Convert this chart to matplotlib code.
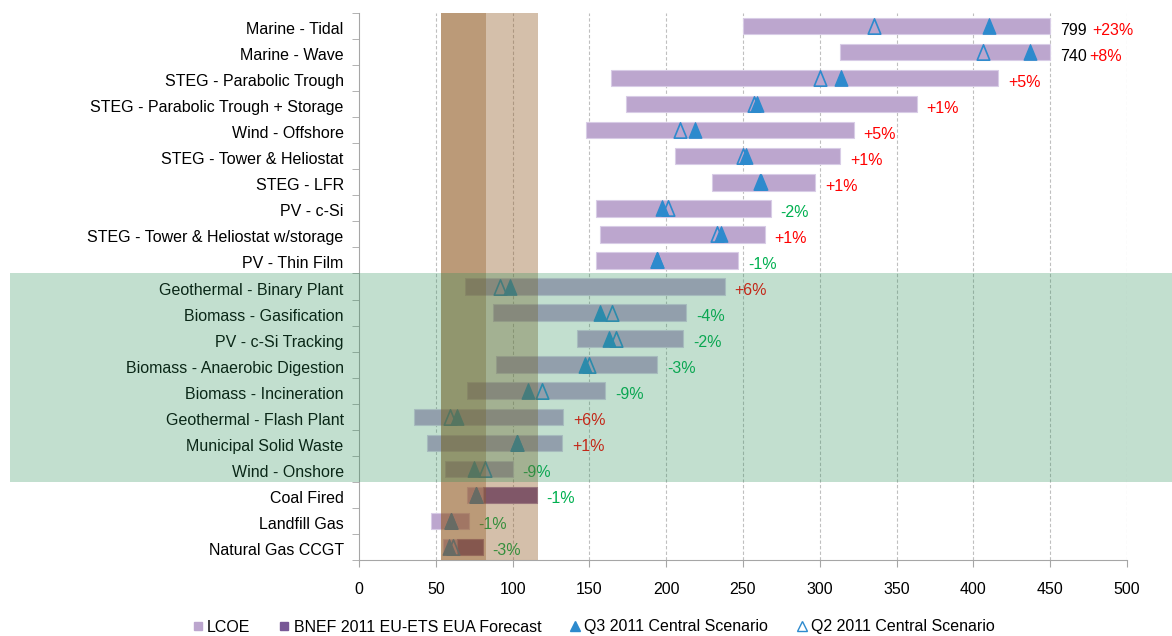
import numpy as np
import matplotlib
matplotlib.use("Agg")
import matplotlib.pyplot as plt
import matplotlib.transforms as mtransforms
from matplotlib.patches import Rectangle
from matplotlib.lines import Line2D
from matplotlib.path import Path

plt.rcParams["font.family"] = ["Liberation Sans", "DejaVu Sans"]

# Data, top to bottom
categories = [
    "Marine - Tidal", "Marine - Wave", "STEG - Parabolic Trough",
    "STEG - Parabolic Trough + Storage", "Wind - Offshore",
    "STEG - Tower & Heliostat", "STEG - LFR", "PV - c-Si",
    "STEG - Tower & Heliostat w/storage", "PV - Thin Film",
    "Geothermal - Binary Plant", "Biomass - Gasification", "PV - c-Si Tracking",
    "Biomass - Anaerobic Digestion", "Biomass - Incineration",
    "Geothermal - Flash Plant", "Municipal Solid Waste", "Wind - Onshore",
    "Coal Fired", "Landfill Gas", "Natural Gas CCGT",
]
lcoe_low = [250, 313, 164, 174, 148, 206, 230, 154, 157, 154,
            69, 87, 142, 89, 70, 36, 44, 56, 70, 47, 54.5]
lcoe_high = [799, 740, 416, 363, 322, 313, 297, 268, 264, 247,
             238, 213, 211, 194, 160, 133, 132, 100, 80.7, 71.4, 63.6]
carbon_high = [0] * 18 + [115.7, 0, 80.5]   # BNEF EUA forecast adder
q3_2011 = [410, 437, 314, 259, 219, 252, 262, 197, 236, 194,
           98, 157, 163, 147, 110, 64, 103, 75, 76, 60, 58.5]
q2_2011 = [335, 406, 300, 257, 209, 250, 261, 201, 233, 194,
           92, 165, 167, 150, 119, 59, 103, 82, 76, 60, 61]
pct_change = ["+23%", "+8%", "+5%", "+1%", "+5%", "+1%", "+1%", "-2%", "+1%", "-1%",
              "+6%", "-4%", "-2%", "-3%", "-9%", "+6%", "+1%", "-9%", "-1%", "-1%", "-3%"]
axis_max_label = {0: "799", 1: "740"}
x_cap = 450

# EUA carbon price band (dark and light)
band_dark = (53.4, 82.7)
band_light = (82.7, 116.5)

lcoe_col = "#BCA6CE"
carbon_col = "#785896"
tri_col = "#2D8ACD"
fs = 11.5

fig = plt.figure(figsize=(11.72, 6.36), dpi=100)
ax = fig.add_axes([359 / 1172, 1 - 560 / 636, 768 / 1172, 547 / 636])

y = np.arange(len(categories))
low = np.array(lcoe_low, dtype=float)
high = np.minimum(np.array(lcoe_high, dtype=float), x_cap)
ax.barh(y, high - low, left=low, height=0.63, color=lcoe_col,
        edgecolor="#D8CCE6", linewidth=0.8, zorder=2)
ch = np.array(carbon_high, dtype=float)
has_c = ch > 0
ax.barh(y[has_c], ch[has_c] - high[has_c], left=high[has_c], height=0.63,
        color=carbon_col, edgecolor="#9F86B5", linewidth=0.8, zorder=2)

tri = Path([(0, 1), (-0.82, -1), (0.82, -1), (0, 1)], closed=True)
ax.plot(q3_2011, y, linestyle="none", marker=tri, markersize=11,
        color=tri_col, zorder=3)
ax.plot(q2_2011, y, linestyle="none", marker=tri, markersize=11,
        markerfacecolor="none", markeredgecolor=tri_col, markeredgewidth=1.2, zorder=3)

# labels at bar ends
for i, p in enumerate(pct_change):
    end = max(high[i], ch[i])
    col = "#FF0000" if p.startswith("+") else "#00B050"
    if i in axis_max_label:
        ax.annotate(axis_max_label[i], (end, i), xytext=(10, -4), textcoords="offset pixels",
                    ha="left", va="center", fontsize=fs, color="black", zorder=4)
        ax.annotate(p, (end, i), xytext=(42 if i == 0 else 39, -4), textcoords="offset pixels",
                    ha="left", va="center", fontsize=fs, color=col, zorder=4)
    else:
        ax.annotate(p, (end, i), xytext=(10, -4), textcoords="offset pixels",
                    ha="left", va="center", fontsize=fs, color=col, zorder=4)

# carbon band overlay
ax.axvspan(*band_dark, color=(143 / 255, 87 / 255, 30 / 255), alpha=0.6, lw=0, zorder=4.5)
ax.axvspan(*band_light, color=(143 / 255, 87 / 255, 30 / 255), alpha=0.375, lw=0, zorder=4.5)

# green highlight over the mid rows (extends into the label area)
trans = mtransforms.blended_transform_factory(fig.transFigure, ax.transData)
ax.add_patch(Rectangle((10 / 1172, 9.5), 1 - 10 / 1172, 8, transform=trans,
                       facecolor=(39 / 255, 143 / 255, 86 / 255), alpha=0.28,
                       lw=0, clip_on=False, zorder=5))

ax.set_xlim(0, 500)
ax.set_ylim(len(categories) - 0.5, -0.5)
ax.set_xticks(np.arange(0, 501, 50))
ax.set_yticks(y)
ax.set_yticklabels(categories)
ax.set_yticks(np.arange(-0.5, len(categories), 1), minor=True)
ax.tick_params(axis="y", which="major", length=0, pad=11, labelsize=fs)
ax.tick_params(axis="y", which="minor", length=5, color="#A6A6A6", direction="out")
ax.tick_params(axis="x", length=5, color="#A6A6A6", pad=11, labelsize=fs)
shift = mtransforms.ScaledTranslation(0, -2 / 100, fig.dpi_scale_trans)
for lab in ax.get_yticklabels():
    lab.set_transform(lab.get_transform() + shift)
ax.set_axisbelow(True)
ax.grid(axis="x", color="#BFBFBF", linestyle=(0, (3, 2)), linewidth=0.8)
ax.xaxis.get_gridlines()[0].set_visible(False)
for s in ["top", "right"]:
    ax.spines[s].set_visible(False)
for s in ["left", "bottom"]:
    ax.spines[s].set_color("#A6A6A6")

handles = [
    Line2D([], [], linestyle="none", marker="s", markersize=6, color=lcoe_col),
    Line2D([], [], linestyle="none", marker="s", markersize=6, color=carbon_col),
    Line2D([], [], linestyle="none", marker="^", markersize=7, color=tri_col),
    Line2D([], [], linestyle="none", marker="^", markersize=7, markerfacecolor="none",
           markeredgecolor=tri_col, markeredgewidth=1),
]
labels = ["LCOE", "BNEF 2011 EU-ETS EUA Forecast", "Q3 2011 Central Scenario",
          "Q2 2011 Central Scenario"]
fig.legend(handles, labels, loc="center", bbox_to_anchor=(594 / 1172, 1 - 627 / 636),
           ncol=4, frameon=False, fontsize=fs, handlelength=0.6, handletextpad=0.3,
           columnspacing=1.8)

fig.savefig("out.png", dpi=100)
